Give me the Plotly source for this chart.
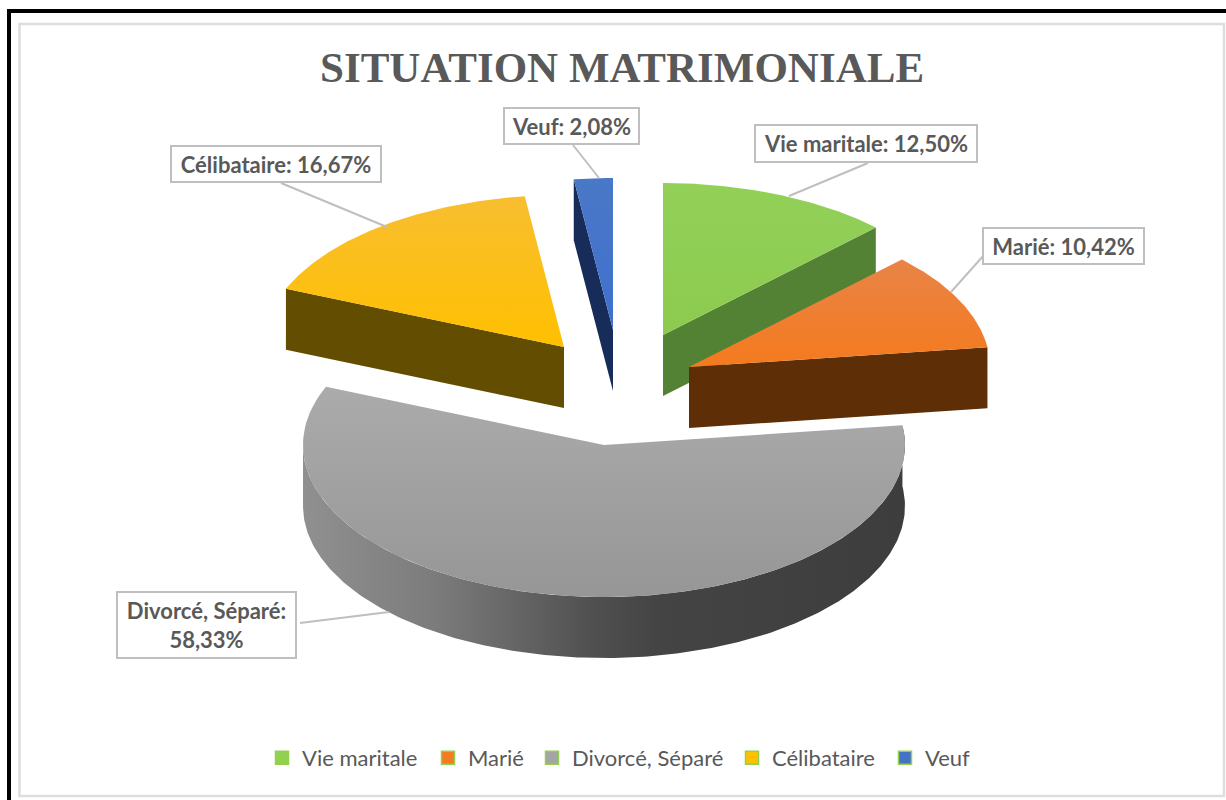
import numpy as np
import plotly.graph_objects as go

# ---- data ----
categories = ["Vie maritale", "Marié", "Divorcé, Séparé", "Célibataire", "Veuf"]
values = [12.50, 10.42, 58.33, 16.67, 2.08]
value_labels = ["12,50%", "10,42%", "58,33%", "16,67%", "2,08%"]
title_text = "SITUATION MATRIMONIALE"

# ---- styles and pie geometry (pixels of the axes) ----
apex_x = [663, 689, 604, 564, 613]
apex_y = [335, 367, 445, 347, 330]
RX, RY, DEPTH = 301, 152, 61
top_upper = ["#92D058", "#E88446", "#ABABAB", "#F8BE30", "#4A78C8"]
top_lower = ["#8CCB4F", "#F57A1E", "#969696", "#FFC000", "#3F70CC"]
wall_col = ["#548235", "#5E2E06", None, "#634D00", "#172C58"]
swatch = ["#92D050", "#F47B20", "#A5A5A5", "#FFC000", "#4472C4"]
legend_left = [262, 428, 532, 732, 885]
label_box = [  # x0, x1, y0, y1
    (754, 978, 124, 163),
    (982, 1145, 227, 265),
    (116, 297, 591, 659),
    (170, 382, 145, 183),
    (503, 640, 107, 145),
]
leader = [
    ((868, 163), (789, 196)),
    ((984, 255), (951, 292)),
    ((300, 623), (389, 612)),
    ((281, 183), (387, 227)),
    ((573, 145), (599, 178)),
]
wall_scale = [[0, "#909090"], [0.217, "#7C7C7C"], [0.35, "#666666"],
              [0.48, "#505050"], [0.59, "#444444"], [1, "#3D3D3D"]]
TXT = "#595959"

fig = go.Figure()

total = sum(values)
edges = np.concatenate([[0], np.cumsum(values)]) / total * 2 * np.pi


def ell(cx, cy, t):
    return cx + RX * np.sin(t), cy - RY * np.cos(t)


def poly(x, y, **fill):
    fig.add_trace(go.Scatter(x=list(x), y=list(y), mode="lines", line=dict(width=0),
                             fill="toself", hoverinfo="skip", showlegend=False, **fill))


# back-to-front painting order
for i in [4, 3, 0, 1, 2]:
    t0, t1 = edges[i], edges[i + 1]
    cx, cy = apex_x[i], apex_y[i]
    t = np.linspace(t0, t1, 120)
    ex, ey = ell(cx, cy, t)

    if i == 2:
        # curved outer wall
        tw = np.linspace(t0, t1, 300)
        tw = tw[tw <= 3 * np.pi / 2]
        wx, wy = ell(cx, cy, tw)
        poly(np.r_[wx, wx[::-1]], np.r_[wy, wy[::-1] + DEPTH],
             fillgradient=dict(type="horizontal", colorscale=wall_scale))
    else:
        # straight cut wall facing the viewer
        side_t = t1 if i in (0, 1) else t0
        sx, sy = ell(cx, cy, side_t)
        poly([cx, sx, sx, cx, cx], [cy, sy, sy + DEPTH, cy + DEPTH, cy],
             fillcolor=wall_col[i])

    poly(np.r_[cx, ex, cx], np.r_[cy, ey, cy],
         fillgradient=dict(type="vertical",
                           colorscale=[[0, top_lower[i]], [1, top_upper[i]]]))

# leader lines
for (a, b) in leader:
    fig.add_trace(go.Scatter(x=[a[0], b[0]], y=[a[1], b[1]], mode="lines",
                             line=dict(color="#BFBFBF", width=2),
                             hoverinfo="skip", showlegend=False))

# legend entries, one positioned legend each
legend_layout = {}
for k, (name, col) in enumerate(zip(categories, swatch)):
    key = "legend" if k == 0 else f"legend{k + 1}"
    fig.add_trace(go.Scatter(x=[None], y=[None], mode="markers", name=name, legend=key,
                             showlegend=True,
                             marker=dict(symbol="square", size=13, color=col,
                                         line=dict(color="#92D050", width=1.5))))
    legend_layout[key] = dict(orientation="h", x=legend_left[k] / 1226, xanchor="left",
                              y=(800 - 758) / 800, yanchor="middle",
                              font=dict(family="Lato", size=22, color=TXT),
                              bgcolor="rgba(0,0,0,0)")

# data labels
annotations = []
for i, (name, lab) in enumerate(zip(categories, value_labels)):
    x0, x1, y0, y1 = label_box[i]
    sep = ":<br>" if i == 2 else ": "
    annotations.append(dict(
        x=(x0 + x1) / 2, y=(y0 + y1) / 2, xref="x", yref="y", showarrow=False,
        text=f"<b>{name}{sep}{lab}</b>", width=x1 - x0 - 4, height=y1 - y0 - 4,
        align="center", valign="middle", bgcolor="#FFFFFF", bordercolor="#BFBFBF",
        borderwidth=2, borderpad=0, font=dict(family="Lato", size=22, color=TXT)))
annotations.append(dict(
    x=622, y=67, xref="x", yref="y", showarrow=False, text=f"<b>{title_text}</b>",
    font=dict(family="Liberation Serif", size=43, color=TXT)))

fig.update_layout(
    width=1226, height=800, margin=dict(l=0, r=0, t=0, b=0),
    paper_bgcolor="#FFFFFF", plot_bgcolor="#FFFFFF",
    xaxis=dict(range=[0, 1226], visible=False, fixedrange=True),
    yaxis=dict(range=[800, 0], visible=False, fixedrange=True),
    showlegend=True,
    annotations=annotations,
    shapes=[
        dict(type="rect", xref="paper", yref="paper", x0=19.5 / 1226, x1=1224 / 1226,
             y0=1 - 796 / 800, y1=1 - 24 / 800, line=dict(color="#DDDDDD", width=2.5), layer="below"),
        dict(type="rect", xref="paper", yref="paper", x0=9 / 1226, x1=1300 / 1226,
             y0=-0.05, y1=1 - 11 / 800, line=dict(color="#000000", width=4), layer="below"),
    ],
    **legend_layout,
)
fig.write_html("out.html", config={"displayModeBar": False},
               post_script="document.body.style.margin='0';document.body.style.overflow='hidden';")
